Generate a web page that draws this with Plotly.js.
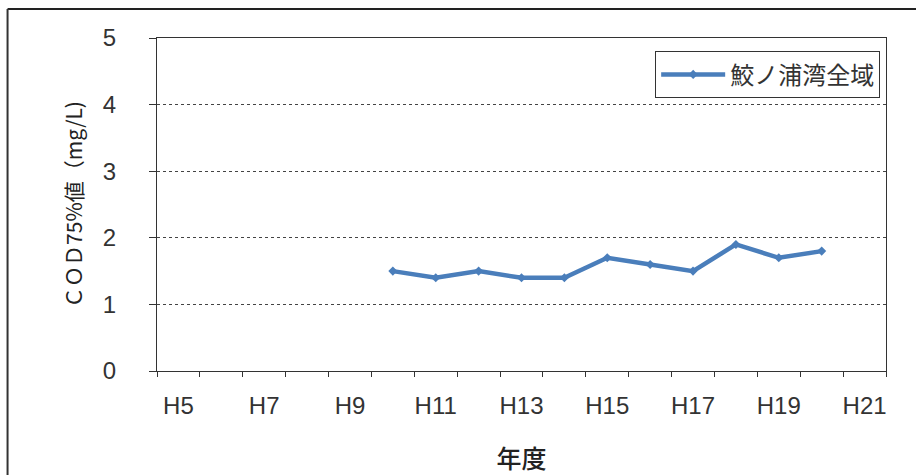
<!DOCTYPE html>
<html>
<head>
<meta charset="utf-8">
<script src="https://cdn.plot.ly/plotly-3.0.1.min.js"></script>
<style>
  html, body { margin: 0; padding: 0; background: #fff; }
  #chart { width: 916px; height: 475px; }
</style>
</head>
<body>
<div id="chart"></div>
<script>
// Categories (fiscal years)
const years = ['H5','H6','H7','H8','H9','H10','H11','H12','H13','H14','H15','H16','H17','H18','H19','H20','H21'];
// Tick labels shown (every other year)
const tickLabels = ['H5','','H7','','H9','','H11','','H13','','H15','','H17','','H19','','H21'];
// Series: 鮫ノ浦湾全域 COD 75% value (mg/L)
const seriesName = '鮫ノ浦湾全域';
const seriesYears = ['H10','H11','H12','H13','H14','H15','H16','H17','H18','H19','H20'];
const seriesValues = [1.5, 1.4, 1.5, 1.4, 1.4, 1.7, 1.6, 1.5, 1.9, 1.7, 1.8];

const tickFamily = '"Liberation Sans", Arial, sans-serif';
const cjk = '"Noto Sans CJK JP", "Noto Sans CJK SC", sans-serif';

const trace = {
  type: 'scatter',
  mode: 'lines+markers',
  name: seriesName,
  x: seriesYears,
  y: seriesValues,
  line: { color: '#4a7ebb', width: 4.5 },
  marker: { symbol: 'diamond', size: 7, color: '#4a7ebb' }
};

const layout = {
  width: 916,
  height: 475,
  margin: { l: 157, r: 30, t: 38, b: 104 },
  paper_bgcolor: '#ffffff',
  plot_bgcolor: '#ffffff',
  showlegend: true,
  legend: {
    x: 0.992, xanchor: 'right',
    y: 0.96, yanchor: 'top',
    bgcolor: '#ffffff',
    bordercolor: '#333333',
    borderwidth: 1,
    font: { family: cjk, size: 24, color: '#333333' },
    itemwidth: 64,
    tracegroupgap: 0
  },
  xaxis: {
    type: 'category',
    categoryorder: 'array',
    categoryarray: years,
    range: [-0.5, years.length - 0.5],
    tickmode: 'array',
    tickvals: years,
    ticktext: tickLabels,
    tickson: 'boundaries',
    tickangle: 0,
    ticks: 'outside',
    ticklen: 5,
    tickwidth: 1,
    tickcolor: '#333333',
    showgrid: false,
    showline: true,
    linecolor: '#333333',
    linewidth: 1,
    mirror: true,
    tickfont: { family: tickFamily, size: 24, color: '#333333' },
    ticklabelstandoff: 13,
    title: { text: '年度', font: { family: cjk, size: 25, color: '#222222', weight: 500 }, standoff: 36 },
    automargin: false
  },
  yaxis: {
    range: [0, 5],
    tickmode: 'linear',
    tick0: 0,
    dtick: 1,
    ticks: 'outside',
    ticklen: 7,
    tickwidth: 1,
    tickcolor: '#333333',
    showgrid: true,
    gridcolor: '#444444',
    gridwidth: 1,
    griddash: 'dot',
    zeroline: false,
    showline: true,
    linecolor: '#333333',
    linewidth: 1,
    mirror: true,
    tickfont: { family: tickFamily, size: 24, color: '#333333' },
    ticklabelstandoff: 28,
    title: { text: 'ＣＯＤ75%値（mg/L)', font: { family: cjk, size: 21, color: '#222222' }, standoff: 14 },
    automargin: false
  },
  shapes: [
    { type: 'line', xref: 'paper', yref: 'paper', x0: -0.205, x1: 1.1, y0: 1.087, y1: 1.087, line: { color: '#222222', width: 2 } },
    { type: 'line', xref: 'paper', yref: 'paper', x0: -0.205, x1: -0.205, y0: 1.087, y1: -0.4, line: { color: '#333333', width: 2 } }
  ]
};

Plotly.newPlot('chart', [trace], layout, { displayModeBar: false, staticPlot: true });
</script>
</body>
</html>
